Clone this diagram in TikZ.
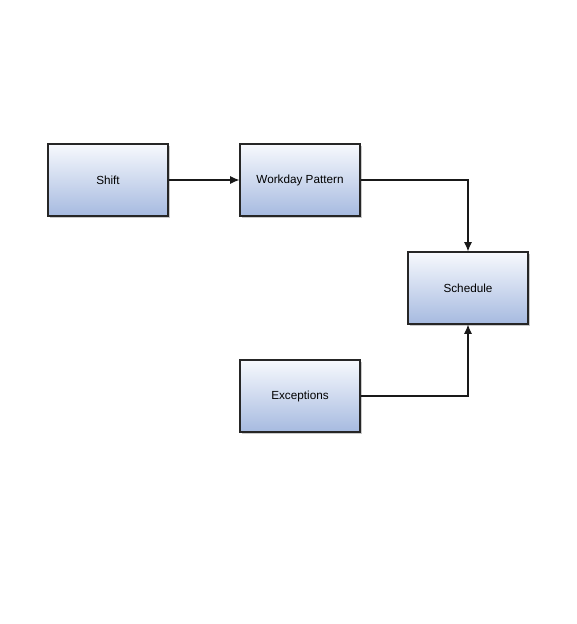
\documentclass[tikz,border=0pt]{standalone}
\usepackage{fontspec}
\setmainfont{Liberation Sans}
\usetikzlibrary{shadows,arrows.meta}
\definecolor{boxtop}{HTML}{F7F9FD}
\definecolor{boxbottom}{HTML}{A6BAE0}
\tikzset{
  box/.style={rectangle, draw=black!85, line width=0.8pt, top color=boxtop, bottom color=boxbottom,
    minimum width=90pt, minimum height=54pt, font=\fontsize{8.8}{10}\selectfont,
    drop shadow={shadow xshift=1.2pt, shadow yshift=-1.2pt, fill=black!35, opacity=0.6}},
  link/.style={draw=black!90, line width=0.8pt, -{Latex[length=7pt,width=6pt]}}
}
\begin{document}
\begin{tikzpicture}[x=0.75pt, y=-0.75pt]
  \useasboundingbox (0,0) rectangle (576,624);
  \node[box] (shift) at (108,180) {Shift};
  \node[box] (pattern) at (300,180) {Workday Pattern};
  \node[box] (schedule) at (468,288) {Schedule};
  \node[box] (exceptions) at (300,396) {Exceptions};
  \draw[link] (shift) -- (pattern);
  \draw[link] (pattern) -| (schedule);
  \draw[link] (exceptions) -| (schedule);
\end{tikzpicture}
\end{document}
